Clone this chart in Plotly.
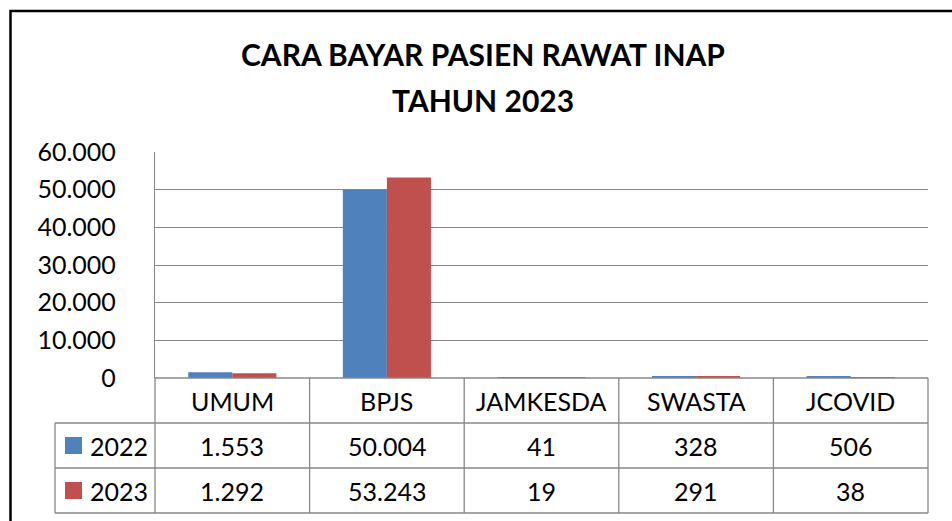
import plotly.graph_objects as go

categories = ["UMUM", "BPJS", "JAMKESDA", "SWASTA", "JCOVID"]
series_names = ["2022", "2023"]
values_2022 = [1553, 50004, 41, 328, 506]
values_2023 = [1292, 53243, 19, 291, 38]
y_ticks = [0, 10000, 20000, 30000, 40000, 50000, 60000]
title_lines = ["CARA BAYAR PASIEN RAWAT INAP", "TAHUN 2023"]

colors = ["#4F81BD", "#C0504D"]
FONT = "Lato, Carlito, Calibri, sans-serif"
W, H = 952, 521
GRID = "#878787"

def px(x):
    return x / W

def py(y):
    return 1 - y / H

# geometry (pixels)
PL, PR, PT, PB = 155, 928, 152, 378
ROW1, ROW2, ROW3 = 423, 468, 513
TL = 55

fig = go.Figure()
for name, vals, c in zip(series_names, [values_2022, values_2023], colors):
    fig.add_trace(go.Bar(x=categories, y=vals, name=name, marker=dict(color=c, line=dict(width=0))))

def fmt(v):
    return f"{v:,}".replace(",", ".")

shapes = []
annotations = []
# outer border
shapes.append(dict(type="rect", xref="paper", yref="paper", x0=px(10.5), x1=px(1000), y0=py(11), y1=py(600),
                   line=dict(color="black", width=2.5)))
ncat = len(categories)
cw = (PR - PL) / ncat
line = dict(color=GRID, width=1.3)
for yy, x0 in [(PB, PL), (ROW1, TL), (ROW2, TL), (ROW3, TL)]:
    shapes.append(dict(type="line", xref="paper", yref="paper", x0=px(x0), x1=px(PR), y0=py(yy), y1=py(yy), line=line))
for i in range(ncat + 1):
    xx = PL + i * cw
    shapes.append(dict(type="line", xref="paper", yref="paper", x0=px(xx), x1=px(xx), y0=py(PB), y1=py(ROW3), line=line))
shapes.append(dict(type="line", xref="paper", yref="paper", x0=px(TL), x1=px(TL), y0=py(ROW1), y1=py(ROW3), line=line))

tfont = dict(family=FONT, size=25, color="black")
for i, cat in enumerate(categories):
    cx = PL + (i + 0.5) * cw
    annotations.append(dict(x=px(cx), y=py((PB + ROW1) / 2), xref="paper", yref="paper", text=cat,
                            showarrow=False, font=tfont, xanchor="center", yanchor="middle"))
    for j, vals in enumerate([values_2022, values_2023]):
        ry = [(ROW1 + ROW2) / 2, (ROW2 + ROW3) / 2][j]
        annotations.append(dict(x=px(cx), y=py(ry), xref="paper", yref="paper", text=fmt(vals[i]),
                                showarrow=False, font=tfont, xanchor="center", yanchor="middle"))
for j, name in enumerate(series_names):
    ry = [(ROW1 + ROW2) / 2, (ROW2 + ROW3) / 2][j]
    shapes.append(dict(type="rect", xref="paper", yref="paper", x0=px(65), x1=px(82), y0=py(ry - 8.5), y1=py(ry + 8.5),
                       fillcolor=colors[j], line=dict(width=0)))
    annotations.append(dict(x=px(88), y=py(ry), xref="paper", yref="paper", text=name,
                            showarrow=False, font=tfont, xanchor="left", yanchor="middle"))

annotations.append(dict(x=px(483), y=py(54), xref="paper", yref="paper", text="<b>" + title_lines[0] + "</b>",
                        showarrow=False, font=dict(family=FONT, size=30, color="black"), xanchor="center", yanchor="middle"))
annotations.append(dict(x=px(483), y=py(100), xref="paper", yref="paper", text="<b>" + title_lines[1] + "</b>",
                        showarrow=False, font=dict(family=FONT, size=30, color="black"), xanchor="center", yanchor="middle"))

fig.update_layout(
    width=W, height=H,
    margin=dict(l=0, r=0, t=0, b=0, pad=0, autoexpand=False),
    paper_bgcolor="white", plot_bgcolor="white",
    separators=",.",
    showlegend=False,
    barmode="group", bargap=0.43, bargroupgap=0,
    shapes=shapes, annotations=annotations,
    xaxis=dict(domain=[px(PL), px(PR)], showticklabels=False, showgrid=False, zeroline=False, automargin=False,
               showline=False, ticks="", range=[-0.5, ncat - 0.5]),
    yaxis=dict(domain=[py(PB), py(PT)], range=[0, 60000], tickvals=y_ticks, tickformat=",d", automargin=False,
               showgrid=True, gridcolor=GRID, gridwidth=1.3, zeroline=False,
               showline=True, linecolor=GRID, linewidth=1.3, ticks="", ticklabelstandoff=33,
               tickfont=dict(family=FONT, size=25, color="black")),
)

fig.write_html("out.html", config={"displayModeBar": False},
               post_script="document.body.style.margin='0';document.body.style.overflow='hidden';")
